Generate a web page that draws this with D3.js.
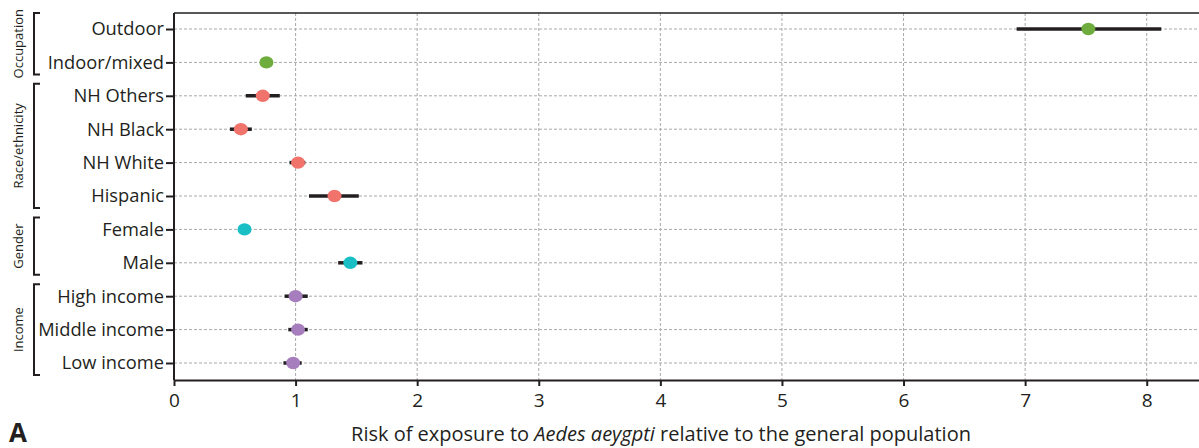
<!DOCTYPE html>
<html>
<head>
<meta charset="utf-8">
<script src="https://cdn.jsdelivr.net/npm/d3@7"></script>
<style>
  body { margin: 0; background: #fff; }
  text { font-family: "Open Sans", "Noto Sans", sans-serif; fill: #231f20; }
</style>
</head>
<body>
<div id="plot"></div>
<script>
// data
const labels = ["Outdoor", "Indoor/mixed", "NH Others", "NH Black", "NH White", "Hispanic",
  "Female", "Male", "High income", "Middle income", "Low income"];
const groupOf = ["Occupation", "Occupation", "Race/ethnicity", "Race/ethnicity", "Race/ethnicity",
  "Race/ethnicity", "Gender", "Gender", "Income", "Income", "Income"];
const estimate = [7.52, 0.76, 0.73, 0.55, 1.02, 1.32, 0.58, 1.45, 1.00, 1.02, 0.98];
const lower = [6.93, 0.74, 0.59, 0.46, 0.95, 1.11, 0.57, 1.35, 0.91, 0.94, 0.90];
const upper = [8.12, 0.78, 0.87, 0.64, 1.08, 1.52, 0.59, 1.55, 1.10, 1.10, 1.05];
const groups = ["Occupation", "Race/ethnicity", "Gender", "Income"];
const groupColors = ["#6fac3e", "#f0736c", "#1abfc5", "#a67dbd"];
const xTicks = [0, 1, 2, 3, 4, 5, 6, 7, 8];

const w = 1199, h = 448;
const margin = {top: 13, right: 0, bottom: 68, left: 174};
const innerWidth = w - margin.left - margin.right;
const innerHeight = h - margin.top - margin.bottom;

const svg = d3.select("#plot").append("svg")
  .attr("width", w).attr("height", h);

const xScale = d3.scaleLinear().domain([0, 8.43]).range([0, innerWidth]);
const yScale = d3.scalePoint().domain(labels).range([16, innerHeight - 17]);
const color = d3.scaleOrdinal().domain(groups).range(groupColors);

const g = svg.append("g").attr("transform", `translate(${margin.left},${margin.top})`);

// grid
g.selectAll(".vgrid").data(xTicks.slice(1)).enter().append("line")
  .attr("x1", d => xScale(d)).attr("x2", d => xScale(d))
  .attr("y1", 0).attr("y2", innerHeight)
  .attr("stroke", "#a7a9ac").attr("stroke-width", 1).attr("stroke-dasharray", "3,2");
g.selectAll(".hgrid").data(labels).enter().append("line")
  .attr("x1", 0).attr("x2", innerWidth)
  .attr("y1", d => yScale(d)).attr("y2", d => yScale(d))
  .attr("stroke", "#a7a9ac").attr("stroke-width", 1).attr("stroke-dasharray", "3,2");

// top frame line
g.append("line").attr("x1", 0).attr("x2", innerWidth).attr("y1", 0).attr("y2", 0)
  .attr("stroke", "#231f20").attr("stroke-width", 1.5);

// axes
const xAxis = g.append("g").attr("transform", `translate(0,${innerHeight})`)
  .call(d3.axisBottom(xScale).tickValues(xTicks).tickSize(6).tickSizeOuter(0));
const yAxis = g.append("g")
  .call(d3.axisLeft(yScale).tickSize(8).tickSizeOuter(0).tickPadding(2));
[xAxis, yAxis].forEach(a => {
  a.attr("font-size", null).attr("font-family", null);
  a.select(".domain").attr("stroke", "#231f20").attr("stroke-width", 2);
  a.selectAll(".tick line").attr("stroke", "#231f20").attr("stroke-width", 2);
  a.selectAll("text").style("font-size", "18.3px").attr("fill", "#231f20");
});
yAxis.select(".domain").attr("d", `M0,0V${innerHeight}`);
xAxis.selectAll("text").style("font-size", "19px").attr("dy", "0.95em");

// error bars
const idx = d3.range(labels.length);
g.selectAll(".ci").data(idx).enter().append("line")
  .attr("x1", i => xScale(lower[i])).attr("x2", i => xScale(upper[i]))
  .attr("y1", i => yScale(labels[i])).attr("y2", i => yScale(labels[i]))
  .attr("stroke", "#231f20").attr("stroke-width", 3.5);

// points
g.selectAll(".pt").data(idx).enter().append("ellipse")
  .attr("cx", i => xScale(estimate[i])).attr("cy", i => yScale(labels[i]))
  .attr("rx", 7).attr("ry", 6.2)
  .attr("fill", i => color(groupOf[i]));

// group brackets
groups.forEach((grp, k) => {
  const rows = labels.filter((d, i) => groupOf[i] === grp);
  let y0 = margin.top + yScale(rows[0]) - 12;
  const y1 = margin.top + yScale(rows[rows.length - 1]) + 12;
  if (k === 0) y0 = margin.top;
  svg.append("path")
    .attr("d", `M40,${y0}H34V${y1}H40`)
    .attr("fill", "none").attr("stroke", "#231f20").attr("stroke-width", 2);
  svg.append("text")
    .attr("transform", `translate(23,${(y0 + y1) / 2}) rotate(-90)`)
    .attr("text-anchor", "middle")
    .style("font-size", "13px")
    .text(grp);
});

// axis title
const title = svg.append("text")
  .attr("x", 661).attr("y", 441)
  .attr("text-anchor", "middle").style("font-size", "20px");
title.append("tspan").text("Risk of exposure to ");
title.append("tspan").attr("font-style", "italic").text("Aedes aeygpti");
title.append("tspan").text(" relative to the general population");

svg.append("text").attr("x", 9).attr("y", 442)
  .style("font-size", "26px").attr("font-weight", "bold").text("A");
</script>
</body>
</html>
